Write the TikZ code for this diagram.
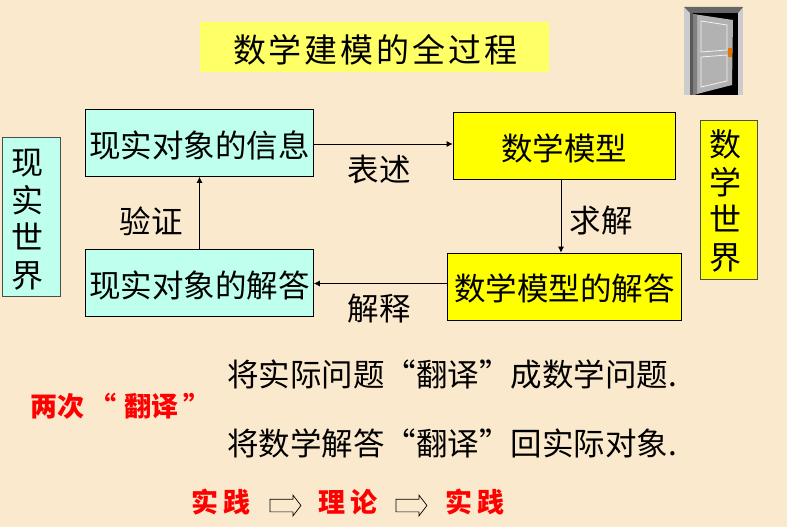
\documentclass[tikz,border=0pt]{standalone}
\usepackage{fontspec}
\newfontfamily\cjk{Noto Sans CJK SC}
\usetikzlibrary{arrows.meta,shapes.arrows}
\definecolor{paper}{HTML}{FBE9CD}
\definecolor{titlefill}{HTML}{FFFF66}
\definecolor{realfill}{HTML}{BFFFEE}
\definecolor{mathfill}{HTML}{FFFF00}
\newcommand{\sidechar}[1]{#1\rule{7pt}{0pt}}
\tikzset{
  txt/.style={font=\cjk\fontsize{31.5}{31.5}\selectfont,inner sep=0pt,text=black},
  redtxt/.style={font=\cjk\bfseries\fontsize{27}{27}\selectfont,inner sep=0pt,text=red},
  flowbox/.style={draw=black,line width=0.7pt,inner sep=0pt,font=\cjk\fontsize{31.5}{31.5}\selectfont,text height=30pt,text depth=2pt},
  sidebox/.style={draw=black!70,line width=0.7pt,inner sep=0pt,align=center,font=\cjk\fontsize{32}{37.5}\selectfont},
  flow/.style={draw=black,line width=0.8pt,-{Latex[length=6pt,width=6pt]}},
  hollow/.style={shape=single arrow,draw=black,fill=paper,line width=0.7pt,minimum height=31pt,
    single arrow head extend=4pt,single arrow tip angle=105,single arrow head indent=0pt,inner sep=0pt},
}
\begin{document}
\begin{tikzpicture}[x=1pt,y=-1pt]
  \fill[paper] (0,0) rectangle (787,527);
  \useasboundingbox (0,0) rectangle (787,527);
  % title
  \node[fill=titlefill,minimum width=349pt,minimum height=50pt,inner sep=0pt] (title) at (374.5,47) {};
  \node[font=\cjk\fontsize{33}{33}\selectfont,inner sep=0pt] (titletext) at (375.5,50) {数\hspace{3pt}学\hspace{3pt}建\hspace{3pt}模\hspace{3pt}的\hspace{3pt}全\hspace{3pt}过\hspace{3pt}程};
  % door
  \fill[gray!40!white] (684,7) rectangle (743,95);
  \fill[black!60] (684,7) -- (743,7) -- (738,13) -- (690,13) -- cycle;
  \fill[black!65] (690,13) rectangle (693,95);
  \fill[black] (693,13) rectangle (738,95);
  \fill[black!30] (693,14) -- (733,20) -- (732,85) -- (693,95) -- cycle;
  \fill[black!50] (693,14) -- (697,15) -- (697,94) -- (693,95) -- cycle;
  \draw[white!90!gray,line width=0.8pt] (701,21) -- (727,25) -- (727,50) -- (701,52) -- cycle;
  \draw[white!90!gray,line width=0.8pt] (701,57) -- (727,55) -- (727,81) -- (701,87) -- cycle;
  \fill[orange!90!black] (728,48) rectangle (732,57);
  % boxes
  \node[flowbox,fill=realfill,minimum width=228pt,minimum height=67pt] (info) at (199.5,143) {现实对象的信息};
  \node[flowbox,fill=realfill,minimum width=228pt,minimum height=67pt] (answer) at (199.5,283) {现实对象的解答};
  \node[flowbox,fill=mathfill,minimum width=222pt,minimum height=67pt] (model) at (564,146) {数学模型};
  \node[flowbox,fill=mathfill,minimum width=234pt,minimum height=67pt] (solution) at (564.5,286.5) {数学模型的解答};
  \node[sidebox,fill=realfill,minimum width=58pt,minimum height=159pt] (real) at (31,217) {\rule{0pt}{31pt}\sidechar{现}\\\sidechar{实}\\\sidechar{世}\\\sidechar{界}};
  \node[sidebox,fill=mathfill,minimum width=57pt,minimum height=159pt] (math) at (729,200) {\rule{0pt}{29pt}\sidechar{数}\\\sidechar{学}\\\sidechar{世}\\\sidechar{界}};
  % connectors
  \draw[flow] (info.east) ++(0,1) coordinate (infoout) (infoout) -- (infoout -| model.west);
  \draw[flow] (model.south) ++(-3,0) coordinate (modelout) (modelout) -- (modelout |- solution.north);
  \draw[flow] (solution.west) ++(0,-3) coordinate (solout) (solout) -- (solout -| answer.east);
  \draw[flow] (answer.north) -- (info.south);
  % labels
  \node[txt] (express) at (379,170) {表述};
  \node[txt] (solve) at (601,221) {求解};
  \node[txt] (explain) at (379,309) {解释};
  \node[txt] (verify) at (151,221) {验证};
  \node[txt,anchor=west] (first) at (227,374) {将实际问题“翻译”成数学问题.};
  \node[txt,anchor=west] (second) at (227,443) {将数学解答“翻译”回实际对象.};
  \node[redtxt,anchor=west] (twice) at (30,406) {两次\hspace{5pt}“\hspace{8pt}翻译\hspace{5pt}”};
  \node[redtxt,anchor=west] (prac) at (191,502) {实\hspace{5pt}践};
  \node[redtxt,anchor=west] (theo) at (318,502) {理\hspace{5pt}论};
  \node[redtxt,anchor=west] (prac2) at (445,502) {实\hspace{5pt}践};
  \node[hollow] (arrowa) at (283,505.5) {\rule{0pt}{12pt}};
  \node[hollow] (arrowb) at (409,505.5) {\rule{0pt}{12pt}};
\end{tikzpicture}
\end{document}
